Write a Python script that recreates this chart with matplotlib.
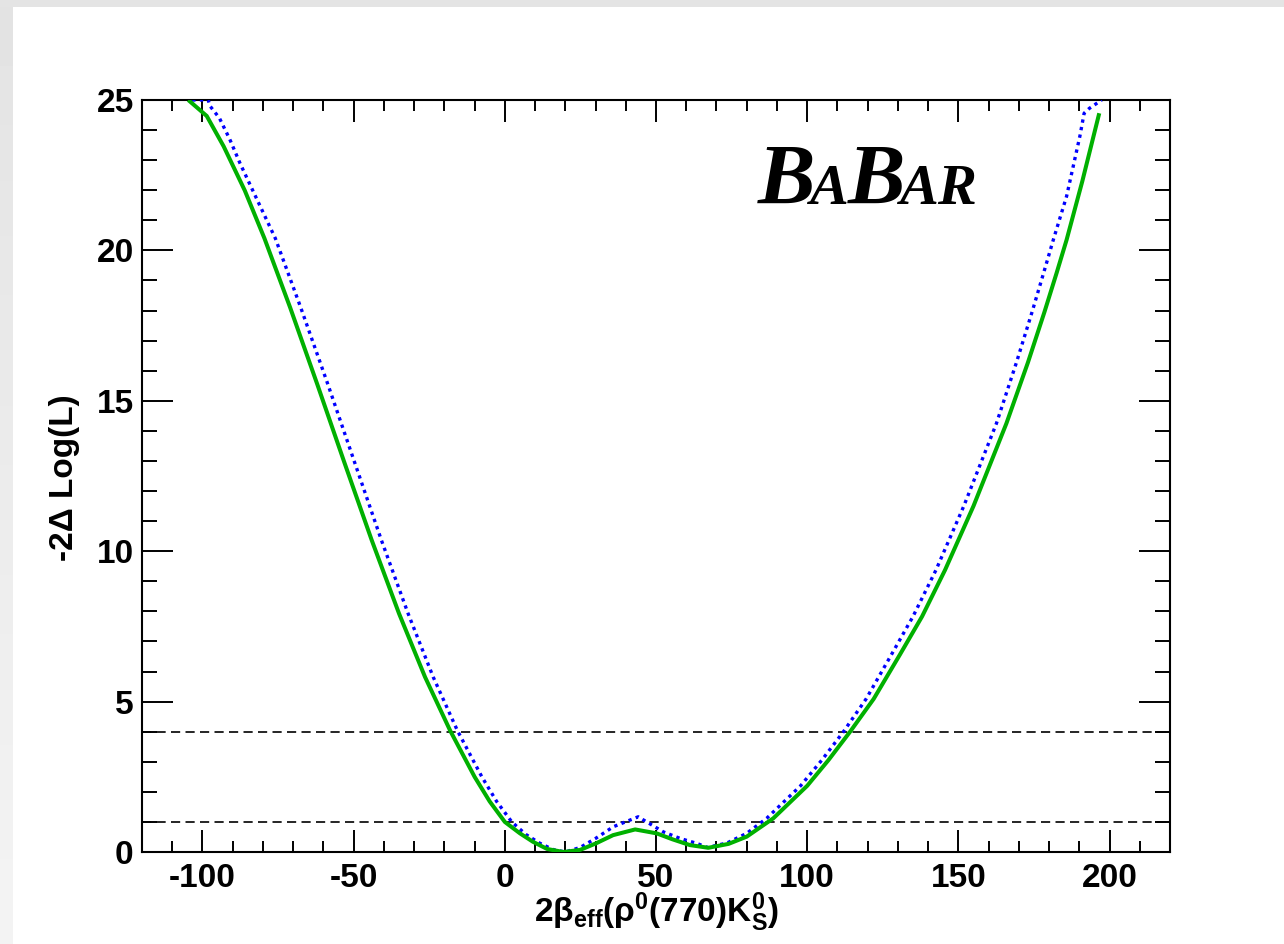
import numpy as np
import matplotlib
matplotlib.use("Agg")
import matplotlib.pyplot as plt
from matplotlib.ticker import MultipleLocator

plt.rcParams['font.family'] = ['Liberation Sans', 'DejaVu Sans']
plt.rcParams['mathtext.fontset'] = 'custom'
plt.rcParams['mathtext.rm'] = 'Liberation Sans:bold'
plt.rcParams['mathtext.it'] = 'Liberation Sans:bold'
plt.rcParams['mathtext.bf'] = 'Liberation Sans:bold'
plt.rcParams['mathtext.default'] = 'rm'
plt.rcParams['axes.unicode_minus'] = False

# ---- data ----
green_x = [-104.7, -98.6, -93.0, -86.0, -79.5, -71.0, -62.0, -53.0, -44.0, -35.0,
           -26.4, -18.1, -10.0, -5.0, 0.0, 5.0, 9.3, 14.0, 19.4, 24.9,
           30.0, 35.8, 43.1, 50.2, 55.5, 61.2, 67.3, 74.0, 80.0, 88.8,
           100.0, 107.0, 114.2, 122.0, 130.6, 138.0, 145.6, 155.0, 165.9, 173.0,
           178.5, 182.5, 185.8, 191.0, 196.6]
green_y = [25.0, 24.47, 23.46, 21.99, 20.4, 18.1, 15.54, 12.93, 10.36, 7.93,
           5.82, 4.04, 2.5, 1.68, 1.0, 0.62, 0.34, 0.1, 0.0, 0.07,
           0.28, 0.56, 0.75, 0.62, 0.42, 0.23, 0.14, 0.27, 0.51, 1.12,
           2.2, 3.05, 4.0, 5.09, 6.55, 7.83, 9.375, 11.5, 14.25, 16.27,
           17.96, 19.25, 20.35, 22.3, 24.56]

blue_x = [-103.4, -98.1, -97.5, -94.4, -91.0, -87.6, -82.0, -75.9, -67.5, -58.5,
          -49.6, -40.8, -32.0, -23.7, -15.7, -7.6, -2.7, 2.3, 7.0, 11.6, 16.0,
          20.0, 24.9, 30.0, 35.9, 44.1, 52.4, 58.0, 63.4, 67.0, 73.5, 80.0,
          86.6, 97.8, 104.8, 112.0, 119.5, 127.8, 135.0, 142.6, 151.8, 162.6,
          169.2, 174.4, 178.2, 181.4, 185.8, 190.2, 191.6, 193.3, 197.4]
blue_y = [25.0, 25.0, 24.8, 24.4, 23.7, 22.9, 21.7, 20.4, 18.1, 15.54,
          12.93, 10.36, 7.93, 5.82, 4.04, 2.5, 1.68, 1.0, 0.58, 0.29, 0.08,
          0.0, 0.15, 0.45, 0.84, 1.17, 0.67, 0.45, 0.29, 0.15, 0.3, 0.62,
          1.12, 2.2, 3.05, 4.0, 5.09, 6.55, 7.83, 9.375, 11.5, 14.25,
          16.27, 17.96, 19.25, 20.35, 21.8, 23.8, 24.56, 24.72, 25.0]

ref_levels = [1.0, 4.0]
x_limits = (-120, 220)
y_limits = (0, 25)
xlabel = r'$2\beta_{eff}(\rho^{0}(770)K^{0}_{S})$'
ylabel = '-2\u0394 Log(L)'

W, H = 1284, 944
fig = plt.figure(figsize=(W / 100, H / 100), dpi=100)
fig.patch.set_facecolor('white')

# gray frame (top and left bands)
bg = fig.add_axes([0, 0, 1, 1], zorder=-10)
bg.set_xlim(0, W)
bg.set_ylim(H, 0)
bg.axis('off')
grad = np.linspace(0.89, 0.955, 256).reshape(-1, 1)
bg.imshow(np.repeat(grad, 2, axis=1), cmap='gray', vmin=0, vmax=1,
          extent=[0, 13, H, 0], aspect='auto')
bg.fill_between([0, W], 0, 7, color='#e4e4e4', lw=0)

ax = fig.add_axes([142 / W, (H - 852) / H, 1028 / W, 752 / H])
ax.set_xlim(*x_limits)
ax.set_ylim(*y_limits)

for lv in ref_levels:
    ax.axhline(lv, color='black', lw=1.2, linestyle=(0, (5.5, 3.2)), zorder=2)

ax.plot(blue_x, blue_y, color='#0000ff', lw=2.4, linestyle=(0, (1.0, 1.3)),
        zorder=3, clip_on=True)
ax.plot(green_x, green_y, color='#00b000', lw=2.9, zorder=4, solid_capstyle='butt',
        solid_joinstyle='round')

ax.xaxis.set_major_locator(MultipleLocator(50))
ax.xaxis.set_minor_locator(MultipleLocator(10))
ax.yaxis.set_major_locator(MultipleLocator(5))
ax.yaxis.set_minor_locator(MultipleLocator(1))
ax.tick_params(axis='x', which='major', direction='in', length=16, width=1.4,
               top=True, bottom=True, labelsize=24, pad=8)
ax.tick_params(axis='x', which='minor', direction='in', length=8, width=1.4,
               top=True, bottom=True)
ax.tick_params(axis='y', which='major', direction='in', length=22, width=1.4,
               left=True, right=True, labelsize=24, pad=6)
ax.tick_params(axis='y', which='minor', direction='in', length=11, width=1.4,
               left=True, right=True)
for lab in ax.get_xticklabels() + ax.get_yticklabels():
    lab.set_fontweight('bold')
for s in ax.spines.values():
    s.set_linewidth(1.5)

fig.text(656 / W, (H - 912) / H, xlabel, ha='center', va='center', fontsize=24)
fig.text(64 / W, (H - 478) / H, ylabel, ha='center', va='center', fontsize=24,
         rotation=90, fontweight='bold')

# BaBar logo
renderer = fig.canvas.get_renderer()
xpix = 758
base_y = (H - 204) / H
for ch, size in [('B', 62), ('A', 42), ('B', 62), ('A', 42), ('R', 42)]:
    t = fig.text(xpix / W, base_y, ch, fontsize=size, fontweight='bold',
                 fontstyle='italic', family=['Liberation Serif', 'DejaVu Serif'],
                 va='baseline', ha='left')
    bb = t.get_window_extent(renderer)
    xpix += bb.width - (6 if size == 62 else 1)

fig.savefig('out.png', dpi=100)
